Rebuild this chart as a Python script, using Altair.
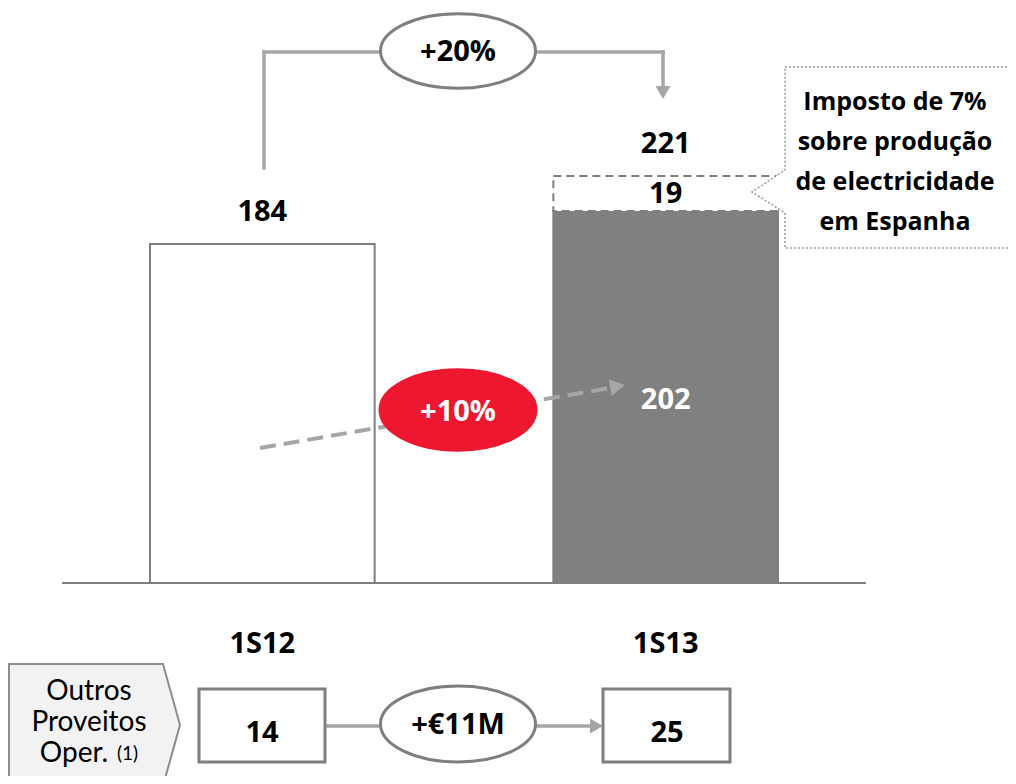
import altair as alt
import pandas as pd

# ---------------- data ----------------
periods = ["1S12", "1S13"]
base_values = [184, 202]
tax_values = [0, 19]
totals = [184, 221]
other_income = [14, 25]
growth_labels = ["+20%", "+10%", "+€11M"]
callout_lines = ["Imposto de 7%", "sobre produção", "de electricidade", "em Espanha"]
side_lines = ["Outros", "Proveitos", "Oper."]
side_note = "(1)"

# ---------------- layout / style ----------------
W, H = 1000, 768
PX_PER_UNIT = 1.842
BASE_PLOT_Y = 575
FONT = "Open Sans"
FONT_REG = "Lato"
GRAY = "#7f7f7f"
LGRAY = "#a6a6a6"
RED = "#ed1730"

yscale = alt.Scale(domain=[-(H - BASE_PLOT_Y) / PX_PER_UNIT, BASE_PLOT_Y / PX_PER_UNIT],
                   nice=False, zero=False)
xband = alt.X("period:N", sort=periods, axis=None,
              scale=alt.Scale(domain=periods, range=[142, 770],
                              paddingInner=0.443, paddingOuter=0))


def YV(field):
    return alt.Y(field, type="quantitative", scale=yscale, axis=None)


bars_df = pd.DataFrame({"period": periods, "base": base_values,
                        "tax": tax_values, "total": totals})
bars_df["top"] = bars_df["base"] + bars_df["tax"]
bars_df["tax_mid"] = bars_df["base"] + bars_df["tax"] / 2
bars_df["base_mid"] = bars_df["base"] / 2
bars_df["zero"] = 0

bsrc = alt.Chart(bars_df)
bars = bsrc.mark_bar(stroke=GRAY, strokeWidth=2).encode(
    x=xband, y=YV("base"), y2="zero:Q",
    fill=alt.condition(alt.datum.period == periods[0], alt.value("white"), alt.value("#808080")),
)
tax_seg = bsrc.transform_filter(alt.datum.tax > 0).mark_bar(
    fill="white", stroke=GRAY, strokeWidth=2, strokeDash=[8, 5]
).encode(x=xband, y=YV("base"), y2="top:Q")

tstyle = dict(font=FONT, fontWeight="bold", fontSize=29, baseline="middle", align="center")
total_lbl = bsrc.mark_text(dy=-32, color="black", **tstyle).encode(
    x=xband, y=YV("total"), text="total:Q")
tax_lbl = bsrc.transform_filter(alt.datum.tax > 0).mark_text(color="black", dy=1, **tstyle).encode(
    x=xband, y=YV("tax_mid"), text="tax:Q")
base_lbl = bsrc.transform_filter(alt.datum.tax > 0).mark_text(color="white", dy=3, **tstyle).encode(
    x=xband, y=YV("base_mid"), text="base:Q")
cat_lbl = bsrc.mark_text(dy=61, color="black", **tstyle).encode(
    x=xband, y=YV("zero"), text="period:N")

bar_layer = alt.layer(bars, tax_seg, total_lbl, tax_lbl, base_lbl, cat_lbl)

# ---------------- annotations (screen-pixel scales) ----------------
xs = alt.Scale(domain=[8, 8 + W], nice=False, zero=False)
ys = alt.Scale(domain=[8, 8 + H], nice=False, zero=False, reverse=True)


def XP(f):
    return alt.X(f, type="quantitative", scale=xs, axis=None)


def YP(f):
    return alt.Y(f, type="quantitative", scale=ys, axis=None)


# baseline
base_df = pd.DataFrame({"x": [62], "x2": [866], "y": [583]})
baseline = alt.Chart(base_df).mark_rule(color=GRAY, strokeWidth=2).encode(
    x=XP("x"), x2="x2:Q", y=YP("y"))

# solid connector segments
seg_df = pd.DataFrame({
    "x": [264, 264, 663, 325, 535],
    "y": [168, 52, 52, 726, 726],
    "x2": [264, 663, 663, 380, 592],
    "y2": [52, 52, 86, 726, 726],
})
segs = alt.Chart(seg_df).mark_rule(color=LGRAY, strokeWidth=3.5, strokeCap="square").encode(
    x=XP("x"), y=YP("y"), x2="x2:Q", y2="y2:Q")

dash_df = pd.DataFrame({"x": [260], "y": [448], "x2": [610], "y2": [388]})
dashed = alt.Chart(dash_df).mark_rule(color=LGRAY, strokeWidth=4, strokeDash=[16, 8]).encode(
    x=XP("x"), y=YP("y"), x2="x2:Q", y2="y2:Q")

arrow_df = pd.DataFrame({
    "x": [663, 617.5, 596.5],
    "y": [92.5, 386.3, 726],
    "shape": ["triangle-down", "triangle-right", "triangle-right"],
    "angle": [0, 350.2, 0],
    "size": [225, 289, 225],
})
arrows = alt.Chart(arrow_df).mark_point(filled=True, color=LGRAY, opacity=1).encode(
    x=XP("x"), y=YP("y"),
    shape=alt.Shape("shape:N", scale=None),
    angle=alt.Angle("angle:Q", scale=None),
    size=alt.Size("size:Q", scale=None),
)


def ellipse_path(ratio):
    return f"M-1,0 A1,{ratio},0,1,1,1,0 A1,{ratio},0,1,1,-1,0 Z"


ell_df = pd.DataFrame({
    "x": [458, 458, 458],
    "y": [51, 410, 724],
    "shape": [ellipse_path(0.48), ellipse_path(0.515), ellipse_path(0.49)],
    "size": [155 ** 2, 156 ** 2, 155 ** 2],
    "fill": ["white", RED, "white"],
    "stroke": [GRAY, RED, GRAY],
})
ellipses = alt.Chart(ell_df).mark_point(strokeWidth=3, opacity=1, fillOpacity=1).encode(
    x=XP("x"), y=YP("y"),
    shape=alt.Shape("shape:N", scale=None),
    size=alt.Size("size:Q", scale=None),
    fill=alt.Fill("fill:N", scale=None),
    stroke=alt.Stroke("stroke:N", scale=None),
)

# callout box with pointer
callout_path = ("M-0.746,-0.696 L1,-0.696 L1,0.696 L-0.746,0.696 "
                "L-0.746,0.427 L-1,0.265 L-0.746,0.096 Z")
callout_df = pd.DataFrame({"x": [882], "y": [157.5]})
callout = alt.Chart(callout_df).mark_point(
    shape=callout_path, size=260 ** 2, fill="white", fillOpacity=1, opacity=1,
    stroke="#9a9a9a", strokeWidth=1.5, strokeDash=[2, 2]
).encode(x=XP("x"), y=YP("y"))

# pentagon side label
pent_path = "M-1,-0.713 L0.801,-0.713 L1,0 L0.801,0.713 L-1,0.713 Z"
shadow_df = pd.DataFrame({"x": [91.5], "y": [728]})
shadow = alt.Chart(shadow_df).mark_point(
    shape=pent_path, size=171 ** 2, fill="#c8c8c8", fillOpacity=1, opacity=1, strokeWidth=0
).encode(x=XP("x"), y=YP("y"))
pent_df = pd.DataFrame({"x": [94.5], "y": [725]})
pentagon = alt.Chart(pent_df).mark_point(
    shape=pent_path, size=171 ** 2, fill="#f2f2f2", fillOpacity=1, opacity=1,
    stroke="#8c8c8c", strokeWidth=2
).encode(x=XP("x"), y=YP("y"))

# boxes for other operating income
box_df = pd.DataFrame({"x": [199, 603], "x2": [325, 730], "y": [689, 689], "y2": [762, 762]})
boxes = alt.Chart(box_df).mark_rect(fill="white", stroke=GRAY, strokeWidth=3).encode(
    x=XP("x"), x2="x2:Q", y=YP("y"), y2="y2:Q")

# bold texts
bold_df = pd.DataFrame({
    "x": [458, 458, 458, 262, 667] + [895] * 4,
    "y": [52, 412, 725, 733, 733, 102, 142, 182, 222],
    "text": growth_labels + [str(v) for v in other_income] + callout_lines,
    "color": ["black", "white", "black", "black", "black"] + ["black"] * 4,
    "fs": [29, 29, 29, 29, 29] + [25] * 4,
})
bold_txt = alt.Chart(bold_df).mark_text(font=FONT, fontWeight="bold", baseline="middle",
                                        align="center").encode(
    x=XP("x"), y=YP("y"), text="text:N",
    color=alt.Color("color:N", scale=None), size=alt.Size("fs:Q", scale=None))

reg_df = pd.DataFrame({
    "x": [89, 89, 74, 127.5],
    "y": [692, 723, 754, 754],
    "text": side_lines + [side_note],
    "fs": [28, 28, 28, 19],
})
reg_txt = alt.Chart(reg_df).mark_text(font=FONT_REG, baseline="middle", align="center",
                                      color="black").encode(
    x=XP("x"), y=YP("y"), text="text:N", size=alt.Size("fs:Q", scale=None))

ann_layer = alt.layer(shadow, pentagon, callout, baseline, segs, dashed, arrows,
                      ellipses, boxes, bold_txt, reg_txt)

chart = alt.layer(bar_layer, ann_layer).resolve_scale(
    x="independent", y="independent"
).properties(
    width=W, height=H, padding=0, autosize=alt.AutoSizeParams(type="none")
).configure_view(stroke=None)

chart.save("out.html", embed_options={"renderer": "svg", "actions": False})
